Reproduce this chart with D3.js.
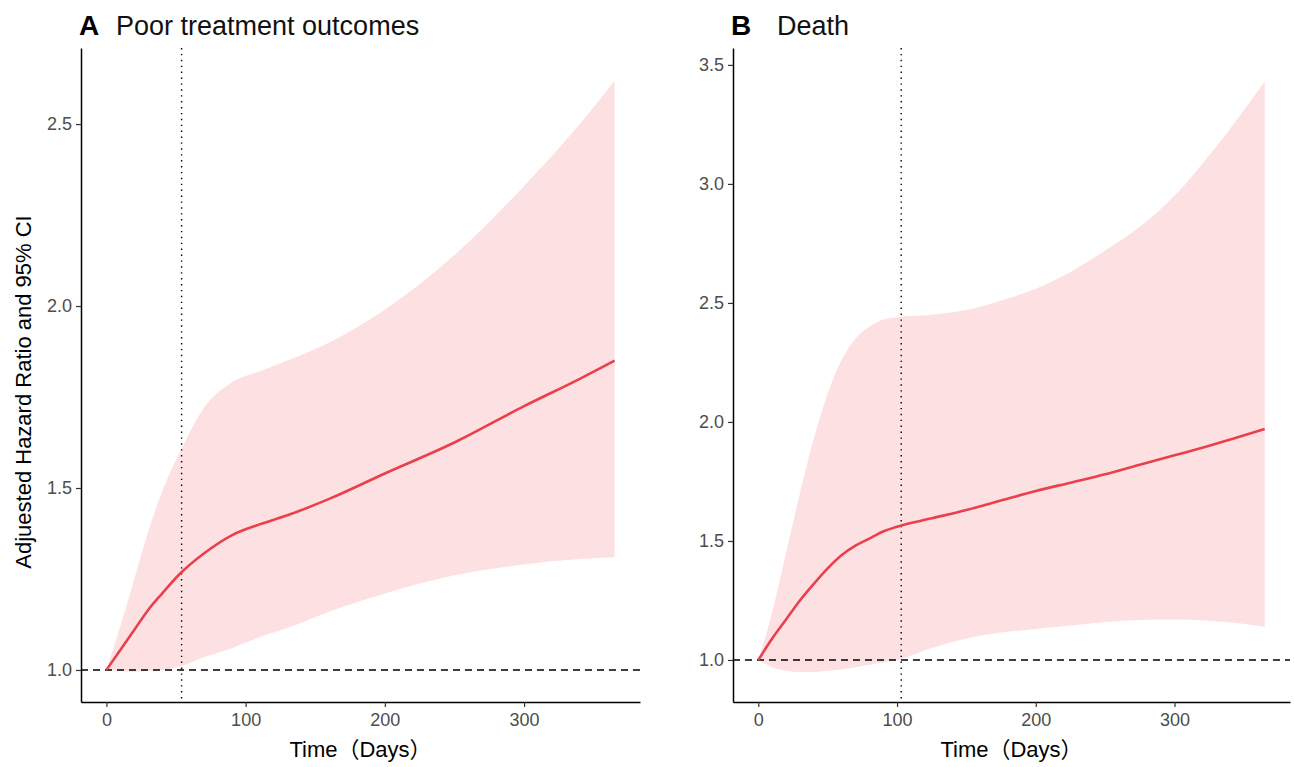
<!DOCTYPE html>
<html>
<head>
<meta charset="utf-8">
<script src="https://cdn.jsdelivr.net/npm/d3@7"></script>
<style>
  body { margin: 0; background: #fff; }
  svg text { font-family: "Liberation Sans", Arial, "Noto Sans CJK SC", sans-serif; }
</style>
</head>
<body>
<div id="chart"></div>
<script>
// Panel A: poor treatment outcomes
const daysA = [0, 10, 20, 30, 40, 53, 70, 90, 110, 130, 160, 200, 250, 300, 340, 365];
const estA  = [1.0, 1.055, 1.11, 1.165, 1.21, 1.265, 1.32, 1.37, 1.4, 1.425, 1.47, 1.54, 1.625, 1.725, 1.8, 1.85];
const upA   = [1.0, 1.12, 1.25, 1.38, 1.49, 1.6, 1.72, 1.79, 1.82, 1.85, 1.9, 1.99, 2.14, 2.33, 2.5, 2.62];
const loA   = [1.0, 0.997, 0.995, 0.997, 1.0, 1.01, 1.035, 1.06, 1.09, 1.115, 1.16, 1.21, 1.26, 1.29, 1.305, 1.31];
const cutA = 54;
const yTicksA = [1.0, 1.5, 2.0, 2.5];

// Panel B: death
const daysB = [0, 10, 20, 30, 40, 50, 60, 70, 80, 90, 100, 125, 150, 175, 200, 225, 250, 275, 300, 325, 345, 365];
const estB  = [1.0, 1.09, 1.17, 1.25, 1.32, 1.385, 1.44, 1.48, 1.51, 1.54, 1.56, 1.595, 1.63, 1.67, 1.71, 1.745, 1.78, 1.82, 1.86, 1.9, 1.935, 1.97];
const upB   = [1.0, 1.2, 1.45, 1.7, 1.93, 2.12, 2.26, 2.35, 2.4, 2.43, 2.44, 2.45, 2.47, 2.51, 2.56, 2.63, 2.72, 2.82, 2.95, 3.12, 3.27, 3.43];
const loB   = [1.0, 0.97, 0.955, 0.95, 0.95, 0.955, 0.96, 0.97, 0.98, 0.99, 1.0, 1.05, 1.09, 1.115, 1.13, 1.145, 1.16, 1.168, 1.17, 1.165, 1.155, 1.14];
const cutB = 103;
const yTicksB = [1.0, 1.5, 2.0, 2.5, 3.0, 3.5];

const xTicks = [0, 100, 200, 300];

const svg = d3.select("#chart").append("svg")
  .attr("width", 1294)
  .attr("height", 767);

function drawPanel(cfg) {
  const x = d3.scaleLinear().domain([-18.25, 383.25]).range([cfg.left, cfg.right]);
  const y = d3.scaleLinear().domain(cfg.yDomain).range([702, 48]);
  const g = svg.append("g");

  const rows = cfg.days.map((d, i) => ({ d: d, est: cfg.est[i], up: cfg.up[i], lo: cfg.lo[i] }));

  // CI ribbon
  g.append("path")
    .datum(rows)
    .attr("fill", "#fde1e2")
    .attr("d", d3.area()
      .x(r => x(r.d))
      .y0(r => y(r.lo))
      .y1(r => y(r.up))
      .curve(d3.curveMonotoneX));

  // reference line at HR = 1
  g.append("line")
    .attr("x1", cfg.left).attr("x2", cfg.right)
    .attr("y1", y(1)).attr("y2", y(1))
    .attr("stroke", "#000").attr("stroke-width", 1.5)
    .attr("stroke-dasharray", "7,5");

  // cut-off day
  g.append("line")
    .attr("x1", x(cfg.cut)).attr("x2", x(cfg.cut))
    .attr("y1", 48).attr("y2", 702)
    .attr("stroke", "#000").attr("stroke-width", 1.4)
    .attr("stroke-dasharray", "1.4,4.5");

  // estimate
  g.append("path")
    .datum(rows)
    .attr("fill", "none")
    .attr("stroke", "#ea3f4c")
    .attr("stroke-width", 2.6)
    .attr("d", d3.line()
      .x(r => x(r.d))
      .y(r => y(r.est))
      .curve(d3.curveMonotoneX));

  // axes
  const xAxis = g.append("g")
    .attr("transform", "translate(0,702)")
    .call(d3.axisBottom(x).tickValues(xTicks).tickSizeInner(5).tickSizeOuter(0)
      .tickPadding(6).tickFormat(d3.format("d")));
  const yAxis = g.append("g")
    .attr("transform", `translate(${cfg.left},0)`)
    .call(d3.axisLeft(y).tickValues(cfg.yTicks).tickSizeInner(5).tickSizeOuter(0)
      .tickPadding(4).tickFormat(d3.format(".1f")));

  [xAxis, yAxis].forEach(a => {
    a.select(".domain").attr("stroke", "#000").attr("stroke-width", 1.5);
    a.selectAll(".tick line").attr("stroke", "#333").attr("stroke-width", 1.2);
    a.selectAll(".tick text").attr("fill", "#4d4d4d").style("font-size", "18px");
  });

  // axis title
  g.append("text")
    .attr("x", (cfg.left + cfg.right) / 2)
    .attr("y", 757)
    .attr("text-anchor", "middle")
    .style("font-size", "22px")
    .attr("fill", "#000")
    .text("Time（Days）");

  // panel title
  g.append("text")
    .attr("x", cfg.left - 2)
    .attr("y", 35)
    .style("font-size", "28px")
    .style("font-weight", "bold")
    .text(cfg.tag);
  g.append("text")
    .attr("x", cfg.titleX)
    .attr("y", 35)
    .style("font-size", "27px")
    .attr("fill", "#111")
    .text(cfg.title);
}

drawPanel({
  left: 81, right: 640, yDomain: [0.912, 2.709],
  days: daysA, est: estA, up: upA, lo: loA, cut: cutA, yTicks: yTicksA,
  tag: "A", title: "Poor treatment outcomes", titleX: 116
});

drawPanel({
  left: 733, right: 1290, yDomain: [0.8235, 3.571],
  days: daysB, est: estB, up: upB, lo: loB, cut: cutB, yTicks: yTicksB,
  tag: "B", title: "Death", titleX: 777
});

// shared y axis title
svg.append("text")
  .attr("transform", "translate(31,392) rotate(-90)")
  .attr("text-anchor", "middle")
  .style("font-size", "22px")
  .attr("fill", "#000")
  .text("Adjuested Hazard Ratio and 95% CI");
</script>
</body>
</html>
